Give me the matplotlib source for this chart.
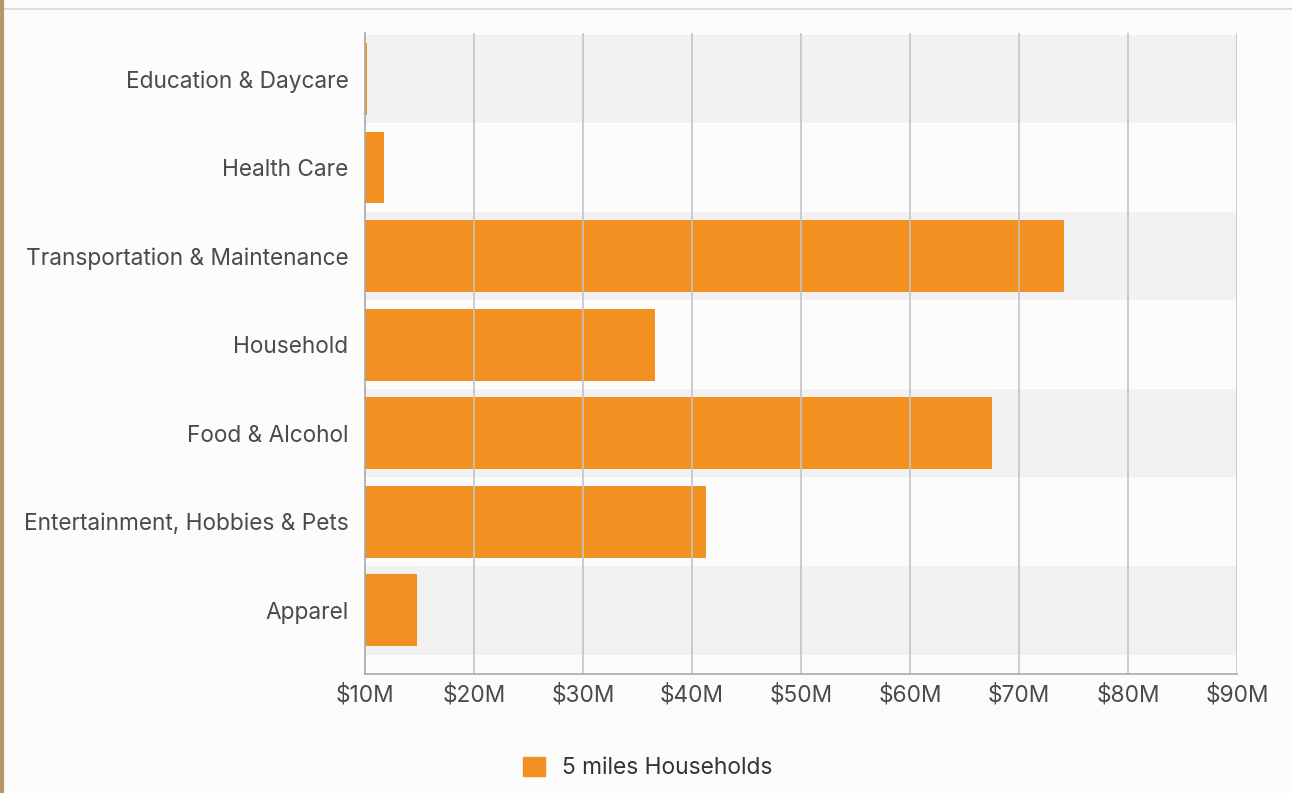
import matplotlib.pyplot as plt
from matplotlib.patches import Rectangle
from matplotlib.lines import Line2D

categories = ['Education & Daycare', 'Health Care', 'Transportation & Maintenance',
              'Household', 'Food & Alcohol', 'Entertainment, Hobbies & Pets', 'Apparel']
values = [10.15, 11.7, 74.1, 36.6, 67.5, 41.3, 14.8]  # $M
x_ticks = [10, 20, 30, 40, 50, 60, 70, 80, 90]
x_tick_labels = ['$%dM' % t for t in x_ticks]
series_name = '5 miles Households'

orange = '#F29122'
text_col = '#4a4a4a'
plt.rcParams['font.family'] = ['Inter', 'DejaVu Sans']

fig = plt.figure(figsize=(12.92, 7.93), dpi=100)
fig.patch.set_facecolor('#fcfcfc')

# frame lines of the card
fig.add_artist(Line2D([0, 1], [1 - 9 / 793, 1 - 9 / 793], color='#d8d8d8', lw=1.2))
fig.add_artist(Line2D([1.5 / 1292, 1.5 / 1292], [0, 1], color='#b8956a', lw=3))

ax = fig.add_axes([365 / 1292, 1 - 674 / 793, 872 / 1292, (674 - 33) / 793])
ax.set_facecolor('#fcfcfc')

# alternating bands
for i in range(len(categories)):
    if i % 2 == 0:
        ax.add_patch(Rectangle((10, i - 0.5), 80, 1, facecolor='#f1f1f1',
                               edgecolor='none', zorder=0))

ax.barh(range(len(categories)), [v - 10 for v in values], left=10, height=0.81,
        color=orange, zorder=2)

ax.set_xlim(10, 90)
ax.set_ylim(6.72, -0.52)
ax.set_xticks(x_ticks)
ax.set_xticklabels(x_tick_labels)
ax.set_yticks(range(len(categories)))
ax.set_yticklabels(categories)
ax.tick_params(axis='both', length=0, labelsize=16.3, colors=text_col)
ax.tick_params(axis='y', pad=12)
ax.tick_params(axis='x', pad=7)

for x in x_ticks[1:]:
    ax.axvline(x, color='#c4c4c4', lw=1.2, zorder=3)

for s in ['top', 'right']:
    ax.spines[s].set_visible(False)
for s in ['left', 'bottom']:
    ax.spines[s].set_color('#a8a8a8')
    ax.spines[s].set_linewidth(1.2)
    ax.spines[s].set_zorder(4)

leg = fig.legend(handles=[Rectangle((0, 0), 1, 1, color=orange)], labels=[series_name],
                 loc='center', bbox_to_anchor=(648 / 1292, 1 - 768 / 793), frameon=False,
                 fontsize=16.4, handlelength=0.95, handleheight=0.95, handletextpad=0.75)
for t in leg.get_texts():
    t.set_color('#333333')

fig.savefig('out.png', dpi=100, facecolor=fig.get_facecolor())
